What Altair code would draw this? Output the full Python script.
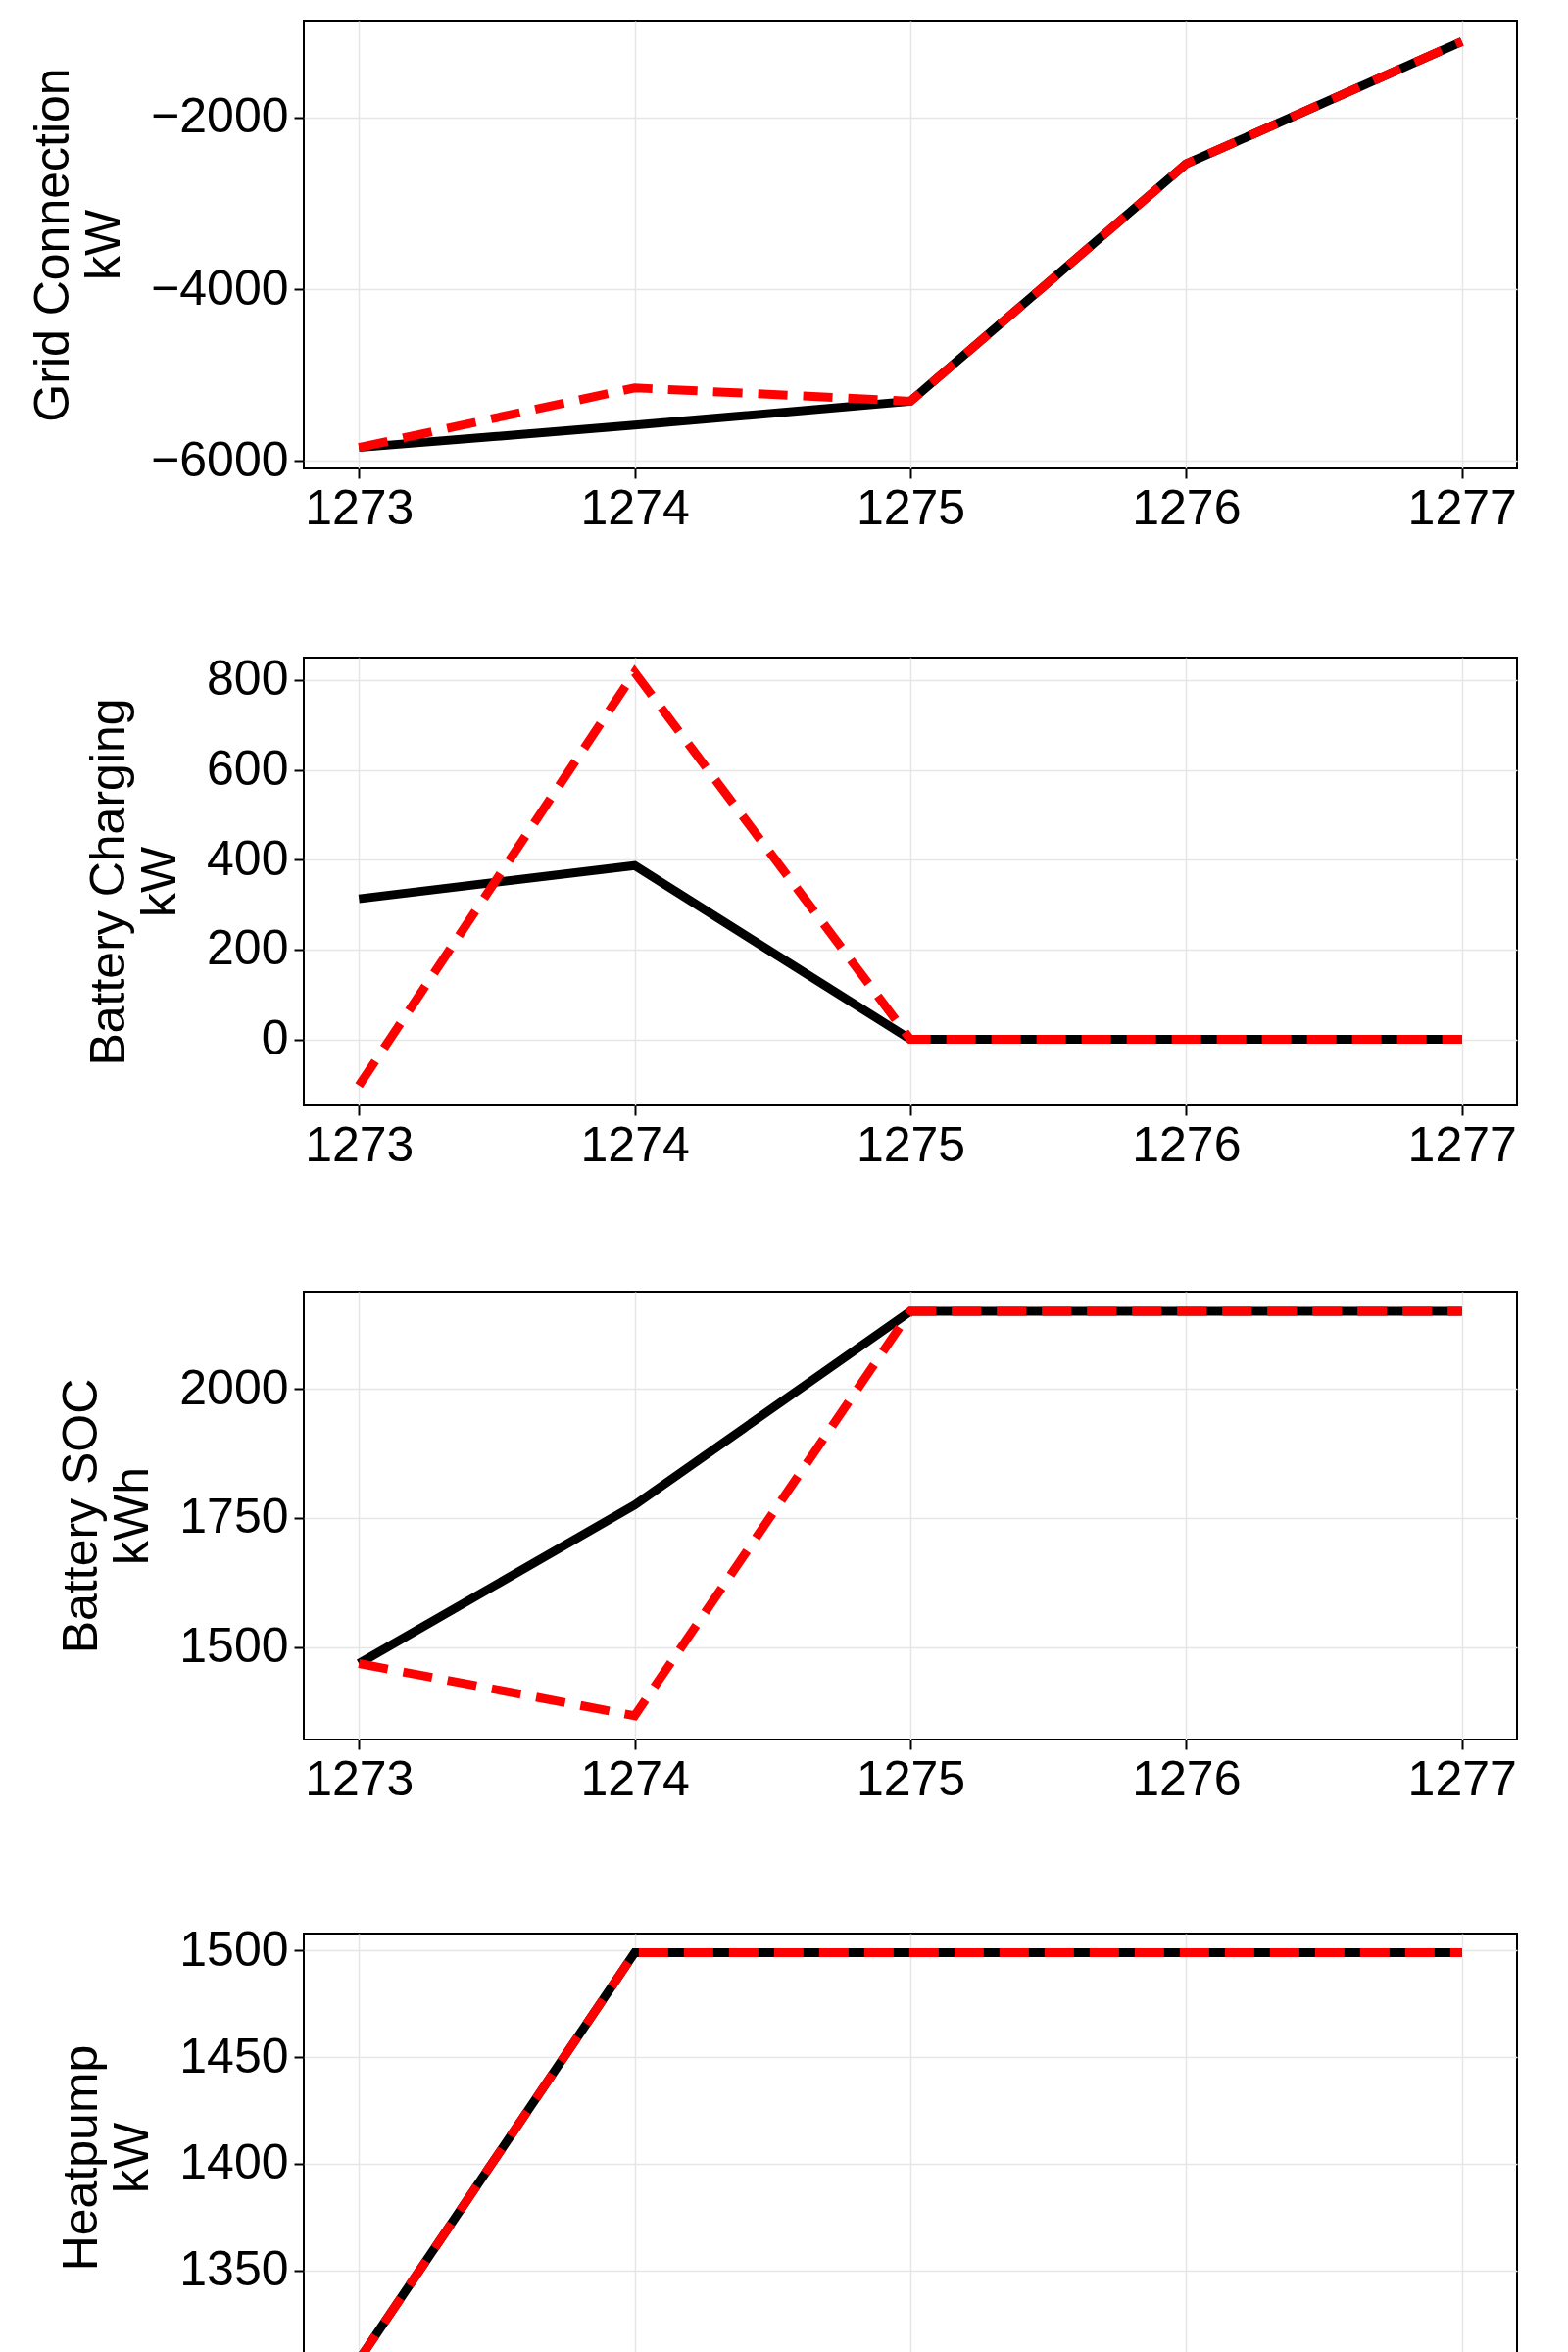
import pandas as pd
import altair as alt

time = [1273, 1274, 1275, 1276, 1277]

grid_ref = [-5843, -5583, -5304, -2539, -1113]
grid_opt = [-5843, -5148, -5304, -2539, -1113]
chg_ref = [313, 387, 0, 0, 0]
chg_opt = [-103, 817, 0, 0, 0]
soc_ref = [1468, 1775, 2150, 2150, 2150]
soc_opt = [1468, 1367, 2150, 2150, 2150]
hp_ref = [1308, 1499, 1499, 1499, 1499]
hp_opt = [1308, 1499, 1499, 1499, 1499]

panels = [
    (["Grid Connection", "kW"], grid_ref, grid_opt, [-6087, -870], [-6000, -4000, -2000]),
    (["Battery Charging", "kW"], chg_ref, chg_opt, [-147, 850], [0, 200, 400, 600, 800]),
    (["Battery SOC", "kWh"], soc_ref, soc_opt, [1321, 2188], [1500, 1750, 2000]),
    (["Heatpump", "kW"], hp_ref, hp_opt, [1297.9, 1508], [1300, 1350, 1400, 1450, 1500]),
]

FONT = "Liberation Sans"


def panel(ytitle, ref, opt, ydom, yticks, last):
    d = pd.DataFrame({"time": time, "ref": ref, "opt": opt})
    x = alt.X(
        "time:Q",
        scale=alt.Scale(domain=[1272.8, 1277.2], nice=False, zero=False),
        axis=alt.Axis(values=time, format="d", title="Time (h)" if last else None),
    )
    y_axis = alt.Axis(values=yticks, format="d", title=ytitle, titlePadding=22)
    ysc = alt.Scale(domain=ydom, nice=False, zero=False)
    black = alt.Chart(d).mark_line(color="black", strokeWidth=9, clip=True).encode(
        x=x, y=alt.Y("ref:Q", scale=ysc, axis=y_axis)
    )
    red = alt.Chart(d).mark_line(
        color="red", strokeWidth=9, strokeDash=[30, 16], clip=True
    ).encode(x=x, y=alt.Y("opt:Q", scale=ysc, axis=y_axis))
    return (black + red).properties(width=1238, height=457)


charts = [panel(*p, last=(i == len(panels) - 1)) for i, p in enumerate(panels)]

chart = (
    alt.vconcat(*charts, spacing=122)
    .properties(padding={"left": 20, "top": 12, "right": 10, "bottom": 10})
    .configure_view(stroke="black", strokeWidth=2)
    .configure_axis(
        labelFont=FONT,
        titleFont=FONT,
        labelFontSize=50,
        titleFontSize=50,
        titleFontWeight="normal",
        labelColor="black",
        titleColor="black",
        gridColor="#e6e6e6",
        gridWidth=1.5,
        domain=False,
        tickColor="black",
        tickSize=10,
        tickWidth=2,
        labelPadding=6,
    )
)

chart.save("out.html", embed_options={"renderer": "svg", "actions": False})
